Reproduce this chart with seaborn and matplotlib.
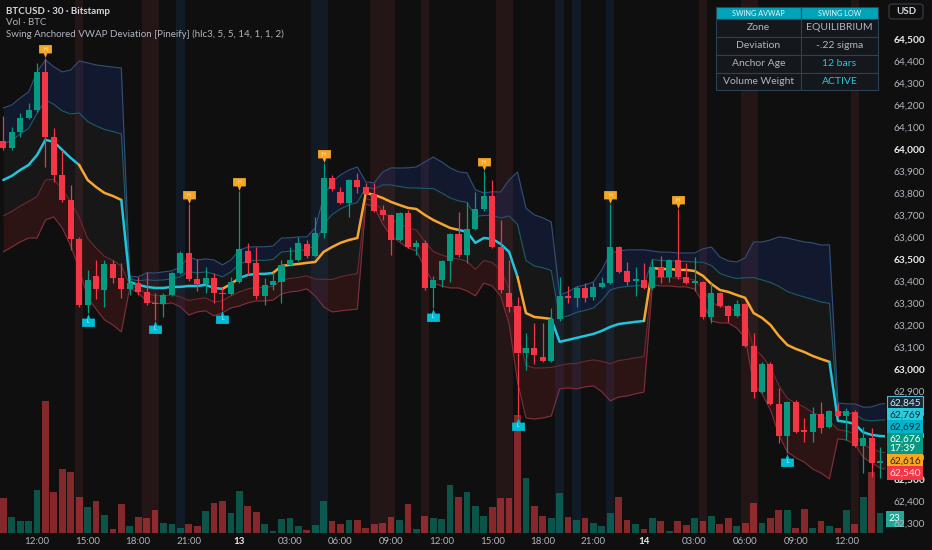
import numpy as np
import matplotlib
matplotlib.use("Agg")
import matplotlib.pyplot as plt
from matplotlib.path import Path
from matplotlib.patches import Rectangle, FancyBboxPatch
import seaborn as sns

# BTCUSD 30m candles, 12th 10:00 -> 14th 14:30
opens = [64036, 64005, 64077, 64141, 64177, 64350, 64055, 63882, 63768, 63590,
         63290, 63423, 63360, 63477, 63414, 63364, 63390, 63350, 63300, 63295,
         63336, 63436, 63527, 63410, 63386, 63414, 63345, 63340, 63395, 63536,
         63482, 63330, 63380, 63395, 63473, 63495, 63568, 63514, 63618, 63868,
         63805, 63755, 63859, 63827, 63795, 63723, 63700, 63586, 63709, 63555,
         63573, 63368, 63405, 63491, 63614, 63518, 63636, 63727, 63786, 63555,
         63345, 63286, 63073, 63095, 63055, 63036, 63227, 63332, 63323, 63368,
         63327, 63373, 63391, 63554, 63445, 63400, 63405, 63370, 63464, 63418,
         63495, 63418, 63391, 63395, 63236, 63345, 63286, 63241, 63295, 63105,
         62895, 63023, 62841, 62695, 62850, 62718, 62714, 62795, 62736, 62809,
         62786, 62805, 62650, 62686, 62573, 62580]
highs = [64150, 64100, 64164, 64209, 64390, 64413, 64095, 63995, 63836, 63600,
         63450, 63495, 63495, 63495, 63482, 63422, 63418, 63441, 63345, 63345,
         63440, 63535, 63750, 63500, 63464, 63436, 63373, 63418, 63809, 63573,
         63554, 63413, 63441, 63495, 63554, 63600, 63586, 63691, 63936, 63882,
         63827, 63865, 63891, 63845, 63845, 63745, 63705, 63715, 63722, 63586,
         63586, 63423, 63495, 63620, 63713, 63759, 63804, 63900, 63859, 63677,
         63495, 63327, 63164, 63209, 63209, 63277, 63418, 63377, 63377, 63391,
         63395, 63418, 63750, 63560, 63486, 63464, 63482, 63500, 63514, 63500,
         63727, 63482, 63509, 63400, 63391, 63350, 63290, 63313, 63300, 63164,
         63030, 63030, 62913, 62855, 62859, 62777, 62827, 62850, 62813, 62845,
         62823, 62813, 62736, 62732, 62645, 62690]
lows = [63995, 63995, 64055, 64135, 64170, 63918, 63850, 63760, 63541, 63280,
        63254, 63318, 63282, 63390, 63323, 63336, 63336, 63290, 63223, 63236,
        63330, 63430, 63400, 63354, 63345, 63300, 63268, 63336, 63390, 63427,
        63320, 63290, 63359, 63300, 63468, 63490, 63505, 63509, 63595, 63810,
        63750, 63691, 63800, 63790, 63715, 63677, 63518, 63580, 63550, 63518,
        63360, 63277, 63373, 63395, 63510, 63482, 63630, 63720, 63550, 63345,
        63259, 62782, 62995, 63023, 63030, 63030, 63220, 63300, 63282, 63305,
        63313, 63368, 63385, 63435, 63382, 63332, 63365, 63365, 63391, 63395,
        63410, 63385, 63354, 63227, 63209, 63280, 63214, 63236, 63100, 62868,
        62890, 62835, 62663, 62618, 62710, 62668, 62668, 62709, 62730, 62780,
        62677, 62645, 62527, 62509, 62505, 62490]
closes = [64005, 64077, 64141, 64177, 64350, 64055, 63882, 63768, 63590, 63290,
          63405, 63364, 63477, 63414, 63364, 63390, 63350, 63300, 63293, 63336,
          63436, 63527, 63410, 63386, 63414, 63345, 63340, 63395, 63545, 63482,
          63330, 63380, 63400, 63473, 63495, 63573, 63514, 63618, 63868, 63818,
          63755, 63859, 63827, 63795, 63718, 63700, 63586, 63709, 63555, 63573,
          63368, 63405, 63491, 63614, 63518, 63636, 63727, 63786, 63555, 63359,
          63282, 63073, 63095, 63064, 63036, 63227, 63332, 63323, 63368, 63323,
          63373, 63391, 63554, 63441, 63395, 63405, 63370, 63464, 63418, 63495,
          63418, 63391, 63395, 63236, 63345, 63286, 63241, 63295, 63105, 62895,
          63023, 62841, 62695, 62850, 62714, 62714, 62795, 62732, 62809, 62786,
          62809, 62650, 62686, 62573, 62580, 62676]
volumes = [58, 27, 20, 19, 70, 216, 67, 105, 100, 59,
           42, 52, 30, 7, 47, 11, 27, 24, 38, 16,
           15, 9, 14, 12, 36, 50, 52, 33, 69, 45,
           34, 15, 4, 23, 25, 12, 5, 13, 53, 20,
           14, 22, 22, 9, 15, 17, 27, 22, 47, 7,
           28, 24, 23, 79, 59, 67, 44, 28, 42, 57,
           58, 194, 90, 45, 28, 25, 66, 26, 21, 24,
           16, 11, 32, 59, 21, 15, 7, 25, 20, 4,
           19, 13, 25, 19, 28, 14, 24, 11, 16, 49,
           16, 24, 38, 38, 8, 40, 9, 19, 12, 8,
           37, 15, 59, 100, 33, 23]

# anchored VWAP and its 2-sigma distance
vwap = [63859, 63877, 63904, 63927, 63972, 64041, 64032, 63995, 63959, 63927,
        63859, 63827, 63800, 63786, 63768, 63395, 63382, 63373, 63368, 63368,
        63373, 63373, 63377, 63377, 63382, 63368, 63364, 63386, 63413, 63427,
        63432, 63432, 63436, 63468, 63473, 63477, 63482, 63486, 63532, 63554,
        63573, 63586, 63595, 63800, 63791, 63777, 63759, 63745, 63732, 63727,
        63700, 63677, 63659, 63641, 63632, 63623, 63573, 63595, 63591, 63568,
        63532, 63418, 63254, 63236, 63232, 63227, 63123, 63132, 63141, 63150,
        63159, 63173, 63191, 63204, 63209, 63214, 63218, 63459, 63454, 63454,
        63450, 63450, 63445, 63423, 63386, 63359, 63350, 63336, 63323, 63254,
        63232, 63200, 63150, 63109, 63091, 63077, 63059, 63045, 63032, 62764,
        62759, 62750, 62712, 62700, 62695, 62692.5]
band2 = [327, 323, 327, 332, 377, 364, 341, 355, 400, 473,
         532, 555, 577, 586, 600, 27, 36, 64, 68, 73,
         73, 91, 132, 118, 118, 127, 109, 109, 127, 127,
         123, 123, 123, 127, 123, 123, 118, 155, 250, 295,
         309, 318, 323, 50, 55, 118, 155, 168, 182, 191,
         241, 286, 282, 273, 264, 268, 241, 205, 214, 236,
         327, 477, 477, 464, 455, 441, 214, 218, 232, 232,
         236, 277, 336, 332, 332, 327, 323, 77, 77, 77,
         77, 77, 82, 123, 168, 150, 141, 150, 182, 323,
         345, 386, 450, 486, 495, 500, 514, 518, 532, 82,
         82, 91, 114, 127, 145, 152.5]
vwap_orange = [0, 0, 0, 0, 0, 0, 0, 0, 0, 0,
               1, 1, 1, 1, 1, 0, 0, 0, 0, 0,
               0, 0, 0, 0, 0, 0, 0, 1, 1, 0,
               0, 0, 0, 1, 1, 1, 1, 1, 1, 1,
               1, 1, 1, 1, 1, 1, 1, 1, 1, 1,
               1, 1, 1, 1, 1, 0, 0, 0, 0, 0,
               0, 0, 1, 1, 1, 1, 0, 0, 0, 0,
               0, 0, 0, 0, 0, 0, 0, 1, 1, 1,
               1, 1, 1, 1, 1, 1, 1, 1, 1, 1,
               1, 1, 1, 1, 1, 1, 1, 1, 1, 0,
               0, 0, 0, 0, 0, 0]

swing_highs = [5, 22, 28, 38, 57, 72, 80]
swing_lows = [10, 18, 26, 51, 61, 93]
red_zones = [9, 17, 18, 44, 45, 46, 50, 59, 60, 83, 88, 89, 101]
blue_zones = [21, 37, 38, 66, 68, 72]

tick_pos = [4, 10, 16, 22, 28, 34, 40, 46, 52, 58, 64, 70, 76, 82, 88, 94, 100]
tick_text = ['12:00', '15:00', '18:00', '21:00', '13', '03:00', '06:00', '09:00',
             '12:00', '15:00', '18:00', '21:00', '14', '03:00', '06:00', '09:00', '12:00']
price_ticks = list(range(62300, 64501, 100))

table_left = ['Zone', 'Deviation', 'Anchor Age', 'Volume Weight']
table_right = ['EQUILIBRIUM', '-.22 sigma', '12 bars', 'ACTIVE']

BG = '#0f0f0f'
GREEN = '#089981'
RED = '#f23645'
CYAN = '#22c4dc'
ORANGE = '#f7a531'

sns.set_theme(style='dark', rc={'axes.facecolor': BG, 'figure.facecolor': BG})
plt.rcParams['font.family'] = ['Lato', 'DejaVu Sans']

W, H = 932, 550
fig = plt.figure(figsize=(W / 100, H / 100), dpi=100)
rect = [0, 17 / H, 885 / W, 533 / H]
ax_vol = fig.add_axes(rect)
ax = fig.add_axes(rect)
ax.set_facecolor('none')

opens = np.array(opens, float)
highs = np.array(highs, float)
lows = np.array(lows, float)
closes = np.array(closes, float)
vwap = np.array(vwap, float)
band2 = np.array(band2, float)
n = len(opens)
idx = np.arange(n)
up = closes >= opens
cols = np.where(up, GREEN, RED)

xlim = (-0.39, 104.59)
ylim = (62254, 64677)
ppx = (ylim[1] - ylim[0]) / 533   # price per pixel

# background zones and volume
for i in red_zones:
    ax_vol.axvspan(i - 0.5, i + 0.5, color='#241517', lw=0, zorder=0)
for i in blue_zones:
    ax_vol.axvspan(i - 0.5, i + 0.5, color='#111a25', lw=0, zorder=0)
vol_cols = [(0.03, 0.6, 0.5, 0.5) if u else (0.95, 0.25, 0.27, 0.52) for u in up]
ax_vol.bar(idx, volumes, width=0.8, color=vol_cols, lw=0, zorder=2)
ax_vol.set_ylim(0, 874)
ax_vol.set_xlim(*xlim)
ax_vol.axis('off')
ax_vol.annotate(f'{volumes[-1]}', xy=(1, volumes[-1]), xycoords=('axes fraction', 'data'),
                xytext=(4, 0), textcoords='offset pixels', ha='left', va='center',
                fontsize=7.3, color='white', annotation_clip=False,
                bbox=dict(boxstyle='square,pad=0.3', fc='#22a896', ec='none'))

# deviation bands
up2 = vwap + band2
up1 = vwap + band2 / 2
lo1 = vwap - band2 / 2
lo2 = vwap - band2
ax.fill_between(idx, up1, up2, color='#2962ff', alpha=0.13, lw=0, zorder=1)
ax.fill_between(idx, lo1, up1, color='#787b86', alpha=0.08, lw=0, zorder=1)
ax.fill_between(idx, lo2, lo1, color='#f23645', alpha=0.13, lw=0, zorder=1)
sns.lineplot(x=idx, y=up2, ax=ax, color='#34507a', lw=0.8, zorder=2)
sns.lineplot(x=idx, y=up1, ax=ax, color='#1d5c66', lw=0.8, zorder=2)
sns.lineplot(x=idx, y=lo1, ax=ax, color='#6b2a33', lw=0.8, zorder=2)
sns.lineplot(x=idx, y=lo2, ax=ax, color='#80303a', lw=0.8, zorder=2)

# vwap, coloured by segment
start = 1
for i in range(1, n + 1):
    if i == n or vwap_orange[i] != vwap_orange[start]:
        c = ORANGE if vwap_orange[start] else CYAN
        ax.plot(idx[start - 1:i], vwap[start - 1:i], color=c, lw=1.8,
                solid_capstyle='round', solid_joinstyle='round', zorder=3)
        start = i

# candles
ax.vlines(idx, lows, highs, colors=cols, lw=0.9, zorder=4)
body_low = np.minimum(opens, closes)
body_h = np.maximum(np.abs(closes - opens), 7)
ax.bar(idx, body_h, bottom=body_low, width=0.72, color=cols, lw=0, zorder=5)

# swing markers
tag_down = Path([(-1, 1), (1, 1), (1, -0.3), (0.28, -0.3), (0, -1), (-0.28, -0.3),
                 (-1, -0.3), (-1, 1)], closed=True)
tag_up = Path([(-1, -1), (1, -1), (1, 0.3), (0.28, 0.3), (0, 1), (-0.28, 0.3),
               (-1, 0.3), (-1, -1)], closed=True)
hx = np.array(swing_highs)
hy = highs[hx] + 7 * ppx
ax.scatter(hx, hy, marker=tag_down, s=85, color='#f5a623', lw=0, zorder=6)
for x, y in zip(hx, hy):
    ax.text(x, y + 1.5 * ppx, 'H', fontsize=3.5, color='#fff2d9', ha='center',
            va='center', zorder=7)
lx = np.array(swing_lows)
ly = lows[lx] - 7 * ppx
ax.scatter(lx, ly, marker=tag_up, s=85, color='#00bcd4', lw=0, zorder=6)
for x, y in zip(lx, ly):
    ax.text(x, y - 1.5 * ppx, 'L', fontsize=3.5, color='#e0f7fa', ha='center',
            va='center', zorder=7)

ax.set_xlim(*xlim)
ax.set_ylim(*ylim)
ax.grid(False)
for s in ax.spines.values():
    s.set_visible(False)

ax.set_xticks(tick_pos)
ax.set_xticklabels(tick_text)
ax.tick_params(axis='x', length=0, pad=3, labelsize=7, colors='#b2b5be')
for lbl in ax.get_xticklabels():
    if ':' not in lbl.get_text():
        lbl.set_fontweight('bold')
        lbl.set_color('#e8eaed')

ax.yaxis.tick_right()
ax.set_yticks(price_ticks)
ax.set_yticklabels([f'{v:,}' for v in price_ticks])
ax.tick_params(axis='y', length=0, pad=6, labelsize=7.3, colors='#b2b5be')
for v, lbl in zip(price_ticks, ax.get_yticklabels()):
    if v % 500 == 0:
        lbl.set_fontweight('bold')
        lbl.set_color('#e8eaed')

# last-value labels on the price scale, stacked so they don't collide
last = n - 1
tags = [(up2[last], False, '#1a2a38', '#cde9f2', '#5ab4d6'),
        (up1[last], False, '#2cc8dc', '#10303a', None),
        (vwap[last], False, '#00b4cc', '#0d2a33', None),
        (closes[last], True, GREEN, 'white', None),
        (lo1[last], False, '#f5a623', '#3a2200', None),
        (lo2[last], False, RED, '#ffe5e5', None)]
heights = [21 if two else 11 for _, two, *_ in tags]
offs = [0.0]
for k in range(1, len(tags)):
    offs.append(offs[-1] + (heights[k - 1] + heights[k]) / 2 + 1)
mean_val = np.mean([t[0] for t in tags])
centre = mean_val + np.mean(offs) * ppx
for (val, two, fc, tc, ec), off in zip(tags, offs):
    pos = centre - off * ppx
    txt = f'{val:,.0f}' + ('\n17:39' if two else '')
    ax.annotate(txt, xy=(1, pos), xycoords=('axes fraction', 'data'), xytext=(4, 0),
                textcoords='offset pixels', ha='left', va='center', fontsize=7.3,
                color=tc, linespacing=1.0, annotation_clip=False, zorder=10,
                bbox=dict(boxstyle='square,pad=0.22', fc=fc,
                          ec=ec if ec else 'none', lw=0.8))

# header texts
fig.text(6 / W, 1 - 11 / H, 'BTCUSD · 30 · Bitstamp', fontsize=7, fontweight='bold',
         color='#d1d4dc', va='center')
fig.text(6 / W, 1 - 22.5 / H, 'Vol · BTC', fontsize=7, color='#b2b5be', va='center')
fig.text(6 / W, 1 - 34 / H,
         'Swing Anchored VWAP Deviation [Pineify] (hlc3, 5, 5, 14, 1, 1, 2)',
         fontsize=7, color='#b2b5be', va='center')

# USD box
fig.add_artist(FancyBboxPatch((889 / W, 1 - 19 / H), 34 / W, 15 / H,
                              boxstyle='round,pad=0,rounding_size=0.004',
                              transform=fig.transFigure, fc=BG, ec='#3a3e48', lw=0.8))
fig.text(906 / W, 1 - 11.5 / H, 'USD', fontsize=7, fontweight='bold', color='#d1d4dc',
         ha='center', va='center')

# info table
tx0, tmid, tx1 = 716, 801, 878
rows_y = [7, 19, 37, 55, 73, 90]
for r in range(5):
    y0, y1 = rows_y[r], rows_y[r + 1]
    for c0, c1 in [(tx0, tmid), (tmid, tx1)]:
        fc = '#00acc1' if r == 0 else '#15181d'
        fig.add_artist(Rectangle((c0 / W, 1 - y1 / H), (c1 - c0) / W, (y1 - y0) / H,
                                 transform=fig.transFigure, fc=fc, ec='#2e4457',
                                 lw=0.8, alpha=0.95))
cx_l, cx_r = (tx0 + tmid) / 2, (tmid + tx1) / 2
fig.text(cx_l / W, 1 - 13 / H, 'SWING AVWAP', fontsize=5.2, color='#dff6fa',
         ha='center', va='center')
fig.text(cx_r / W, 1 - 13 / H, 'SWING LOW', fontsize=5.2, color='#dff6fa',
         ha='center', va='center')
for r in range(4):
    yc = (rows_y[r + 1] + rows_y[r + 2]) / 2
    fig.text(cx_l / W, 1 - yc / H, table_left[r], fontsize=7.5, color='#b2b5be',
             ha='center', va='center')
    col = '#26c6da' if r >= 2 else '#b2b5be'
    fig.text(cx_r / W, 1 - yc / H, table_right[r], fontsize=7.5, color=col,
             ha='center', va='center')

fig.savefig('out.png', dpi=100, facecolor=BG)
